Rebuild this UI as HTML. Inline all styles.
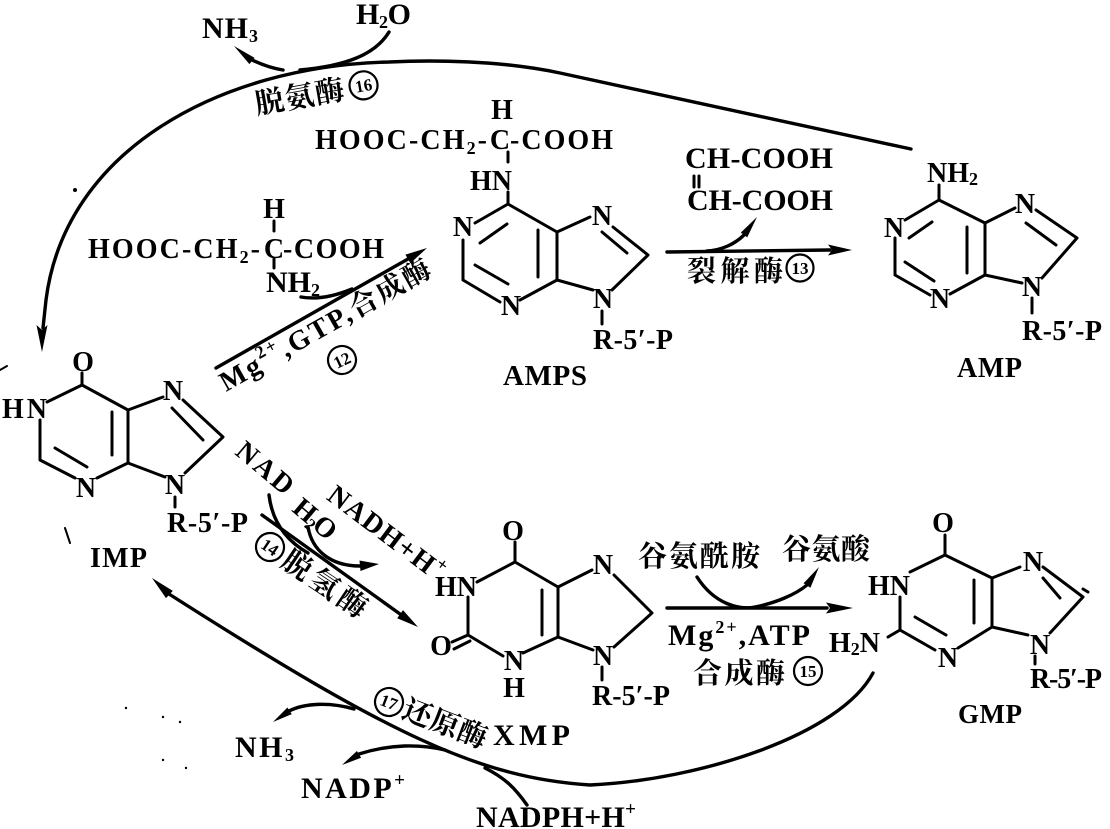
<!DOCTYPE html>
<html><head><meta charset="utf-8"><style>
html,body{margin:0;padding:0;background:#fff;}
svg{display:block;}
.t{font-family:"Liberation Serif","Noto Serif CJK SC",serif;font-weight:bold;fill:#000;}
.c{font-family:"Noto Serif CJK SC","Noto Sans CJK SC","WenQuanYi Zen Hei",serif;font-weight:bold;fill:#000;}
</style></head><body>
<svg xmlns="http://www.w3.org/2000/svg" width="1110" height="829" viewBox="0 0 1110 829">
<rect width="1110" height="829" fill="#fff"/>

<!-- bonds -->
<g fill="none" stroke="#000" stroke-width="3" stroke-linecap="round">
<!-- IMP -->
<path d="M82,373 L82,385 M82,385 L47,402 M40,420 L40,460 M40,460 L75,478 M97,478 L128,463 M128,463 L128,410 M128,410 L82,385 M128,410 L163,397 M183,400 L223,437 M223,437 L185,473 M165,477 L128,463 M55,448 L87,467 M112,412 L112,455 M172,408 L203,440 M175,497 L175,507"/>
<!-- AMPS -->
<path d="M508,152 L508,162 M508,192 L508,204 M508,204 L475,223 M463,240 L463,280 M463,280 L500,302 M520,300 L557,280 M557,280 L557,232 M557,232 L508,204 M557,232 L590,217 M613,227 L648,255 M648,255 L612,290 M593,290 L557,280 M480,243 L507,224 M475,265 L508,284 M538,230 L538,277 M602,232 L627,253 M602,311 L602,324"/>
<!-- AMP -->
<path d="M939,185 L939,200 M939,200 L905,220 M895,238 L895,275 M895,275 L930,295 M950,294 L985,275 M985,275 L985,223 M985,223 L939,200 M985,223 L1015,208 M1036,210 L1077,238 M1077,238 L1042,278 M1022,283 L985,275 M909,238 L932,222 M905,262 L934,281 M967,227 L967,273 M1026,223 L1056,245 M1032,298 L1032,313"/>
<!-- XMP -->
<path d="M515,542 L515,562 M515,562 L477,582 M468,597 L468,635 M468,635 L503,656 M523,653 L558,637 M558,637 L558,587 M558,587 L515,562 M558,587 L592,570 M614,575 L652,613 M652,613 L614,647 M593,650 L558,637 M542,590 L542,635 M468,635 L452,642 M470,641 L454,649 M602,667 L602,680"/>
<!-- GMP -->
<path d="M945,535 L945,555 M945,555 L910,572 M900,597 L900,630 M900,630 L935,650 M958,648 L992,627 M992,627 L992,578 M992,578 L945,555 M992,578 L1020,567 M1043,567 L1083,597 M1083,597 L1050,633 M1028,635 L992,627 M888,637 L900,630 M915,617 L946,635 M974,580 L974,623 M1043,578 L1060,598 M1035,656 L1035,664 M1083,589 L1088,592"/>
<!-- aspartate ticks -->
<path d="M274,221 L274,231 M274,259 L274,268 M694,176 L694,187 M699,176 L699,187"/>
</g>

<!-- arrows -->
<g fill="none" stroke="#000" stroke-width="3.4" stroke-linecap="round">
<path d="M911,149 L560,73 C500,60 430,60 389,62 C220,66 65,150 46,300 L43,328"/>
<path d="M389,32 C375,55 345,66 300,70"/>
<path d="M283,70 C270,68 258,63 250,59"/>
<path d="M216,368 L408,259"/>
<path d="M301,297 C318,300 335,296 352,289"/>
<path d="M667,252 L830,250"/>
<path d="M707,251 C722,250 735,244 744,235"/>
<path d="M262,515 L400,614"/>
<path d="M269,495 C272,520 285,540 308,553"/>
<path d="M308,527 C312,550 330,566 360,566"/>
<path d="M667,608 L827,608"/>
<path d="M697,577 C715,605 740,610 755,607 C775,603 795,595 807,585"/>
<path d="M873,673 C840,735 700,780 590,785 C480,778 390,735 169,594"/>
<path d="M354,709 C330,702 305,703 289,711"/>
<path d="M445,750 C420,744 390,744 359,754"/>
<path d="M527,805 C515,788 505,778 485,768"/>
</g>

<!-- arrowheads -->
<g fill="#000" stroke="none">
<polygon points="42,352 36.5,325 42,330 47.5,325"/>
<polygon points="234,46 254.6,57.9 249.4,64.1"/>
<polygon points="427,248 410.4,263.2 405.4,254.6"/>
<polygon points="852,250 828,244.5 832,250 828,255.5"/>
<polygon points="757,217 747.2,237.4 740.8,232.6"/>
<polygon points="418,627 397.2,618.3 403,610.1"/>
<polygon points="379,564 359.5,560.5 360.5,571"/>
<polygon points="853,608 826,602.5 830,608 826,613.5"/>
<polygon points="819,567 810.4,587.7 803.6,583.3"/>
<polygon points="152,578 172.8,590.9 166,598.1"/>
<polygon points="273,722 291.8,714.1 287.4,707.5"/>
<polygon points="342,765 361.1,757.8 356.9,751"/>
</g>

<!-- specks -->
<g fill="#000" stroke="#000" stroke-width="2" stroke-linecap="round">
<circle cx="75" cy="190" r="2" stroke="none"/>
<path d="M0,370 L7,366 M65,528 L70,543" fill="none"/>
<circle cx="126" cy="708" r="1.2" stroke="none"/>
<circle cx="163" cy="717" r="1.2" stroke="none"/>
<circle cx="180" cy="722" r="1.2" stroke="none"/>
<circle cx="163" cy="760" r="1.2" stroke="none"/>
<circle cx="186" cy="768" r="1.2" stroke="none"/>
</g>

<!-- atom labels -->
<g class="t" font-size="28" text-anchor="middle">
<!-- IMP -->
<text x="83" y="371">O</text>
<text x="86" y="497">N</text>
<text x="173" y="400">N</text>
<text x="175" y="494">N</text>
<!-- AMPS -->
<text x="502" y="119">H</text>
<text x="500" y="149">C</text>
<text x="463" y="236">N</text>
<text x="511" y="315">N</text>
<text x="602" y="225">N</text>
<text x="603" y="308">N</text>
<!-- AMP -->
<text x="894" y="237">N</text>
<text x="940" y="308">N</text>
<text x="1025" y="213">N</text>
<text x="1032" y="296">N</text>
<!-- XMP -->
<text x="513" y="540">O</text>
<text x="441" y="655">O</text>
<text x="514" y="670">N</text>
<text x="514" y="697">H</text>
<text x="603" y="574">N</text>
<text x="603" y="665">N</text>
<!-- GMP -->
<text x="943" y="532">O</text>
<text x="948" y="667">N</text>
<text x="1033" y="571">N</text>
<text x="1040" y="654">N</text>
<!-- aspartate -->
<text x="274" y="218">H</text>
<text x="274" y="258">C</text>
</g>

<g class="t" font-size="28">
<text x="2" y="418" textLength="45">HN</text>
<text x="167" y="532" textLength="81">R-5′-P</text>
<text x="90" y="567" textLength="57" font-size="28">IMP</text>

<text x="470" y="190" textLength="42">HN</text>
<text x="593" y="349" textLength="80">R-5′-P</text>
<text x="503" y="385" textLength="84" font-size="29">AMPS</text>

<text x="927" y="182">NH<tspan font-size="18" dy="3">2</tspan></text>
<text x="1022" y="340" textLength="80">R-5′-P</text>
<text x="957" y="377" textLength="65" font-size="28">AMP</text>

<text x="435" y="596" textLength="42">HN</text>
<text x="592" y="705" textLength="78">R-5′-P</text>

<text x="868" y="595" textLength="42">HN</text>
<text x="829" y="652">H<tspan font-size="18" dy="3">2</tspan><tspan dy="-3">N</tspan></text>
<text x="1030" y="688" textLength="72">R-5′-P</text>
<text x="958" y="723" textLength="64" font-size="27">GMP</text>
</g>

<!-- chains -->
<g class="t" font-size="28">
<text x="88" y="258" textLength="172">HOOC-CH<tspan font-size="18" dy="5">2</tspan><tspan dy="-5">-</tspan></text>
<text x="283" y="258" textLength="101">-COOH</text>
<text x="266" y="292" font-size="30">NH<tspan font-size="18" dy="4">2</tspan></text>

<text x="315" y="149" textLength="172">HOOC-CH<tspan font-size="18" dy="5">2</tspan><tspan dy="-5">-</tspan></text>
<text x="510" y="149" textLength="103">-COOH</text>

<text x="685" y="168" textLength="148" font-size="30">CH-COOH</text>
<text x="687" y="210" textLength="146" font-size="30">CH-COOH</text>

<text x="202" y="38" textLength="56" font-size="30">NH<tspan font-size="18" dy="4">3</tspan></text>
<text x="356" y="24" textLength="55" font-size="30">H<tspan font-size="18" dy="4">2</tspan><tspan dy="-4">O</tspan></text>

<text x="668" y="645" textLength="142" font-size="30">Mg<tspan font-size="18" dy="-12">2+</tspan><tspan dy="12">,ATP</tspan></text>

<text x="235" y="757" textLength="59" font-size="30">NH<tspan font-size="18" dy="4">3</tspan></text>
<text x="301" y="798" textLength="104" font-size="30">NADP<tspan font-size="19" dy="-12">+</tspan></text>
<text x="476" y="827" textLength="160" font-size="30">NADPH+H<tspan font-size="19" dy="-12">+</tspan></text>
<text x="493" y="745" textLength="77" font-size="30">XMP</text>
</g>

<!-- Chinese labels -->
<g class="c" font-size="29">
<text x="687" y="281" textLength="96">裂解酶</text>
<text x="638" y="566" textLength="122">谷氨酰胺</text>
<text x="782" y="559" textLength="88">谷氨酸</text>
<text x="693" y="683" textLength="92">合成酶</text>
</g>

<!-- circled numbers (unrotated) -->
<g fill="none" stroke="#000" stroke-width="2.2">
<circle cx="800" cy="268" r="13.5"/>
<circle cx="808" cy="671" r="14"/>
</g>
<g class="t" font-size="17" text-anchor="middle">
<text x="800" y="274">13</text>
<text x="808" y="677">15</text>
</g>

<!-- rotated: 脱氨酶16 -->
<g transform="translate(269,102) rotate(-10)">
<text class="c" x="-14" y="10" font-size="29" textLength="90">脱氨酶</text>
<circle cx="96" cy="0" r="14" fill="none" stroke="#000" stroke-width="2.2"/>
<text class="t" x="96" y="6" font-size="17" text-anchor="middle">16</text>
</g>

<!-- rotated: Mg2+,GTP,合成酶 -->
<g transform="translate(226,392) rotate(-29.5)">
<text class="t" x="0" y="0" font-size="28" textLength="238">Mg<tspan font-size="18" dy="-12">2+</tspan><tspan dy="12">,GTP,</tspan><tspan class="c">合成酶</tspan></text>
</g>
<g transform="translate(342,360) rotate(-25)">
<circle cx="0" cy="0" r="14" fill="none" stroke="#000" stroke-width="2.2"/>
<text class="t" x="0" y="6" font-size="17" text-anchor="middle">12</text>
</g>

<!-- rotated: NAD / H2O / NADH+H+ -->
<g transform="translate(265,468) rotate(40)">
<text class="t" x="0" y="9" font-size="28" text-anchor="middle" textLength="66">NAD</text>
</g>
<g transform="translate(315,519) rotate(40)">
<text class="t" x="0" y="9" font-size="28" text-anchor="middle" textLength="48">H<tspan font-size="17" dy="4">2</tspan><tspan dy="-4">O</tspan></text>
</g>
<g transform="translate(386,533) rotate(37)">
<text class="t" x="0" y="9" font-size="28" text-anchor="middle" textLength="138">NADH+H<tspan font-size="18" dy="-12">+</tspan></text>
</g>

<!-- rotated: 14 脱氢酶 -->
<g transform="translate(270,547) rotate(34)">
<circle cx="0" cy="0" r="14" fill="none" stroke="#000" stroke-width="2.2"/>
<text class="t" x="0" y="6" font-size="17" text-anchor="middle">14</text>
<text class="c" x="18" y="10" font-size="29" textLength="96">脱氢酶</text>
</g>

<!-- rotated: 17 还原酶 -->
<g transform="translate(389,702) rotate(21)">
<circle cx="0" cy="0" r="14" fill="none" stroke="#000" stroke-width="2.2"/>
<text class="t" x="0" y="6" font-size="17" text-anchor="middle">17</text>
<text class="c" x="16" y="10" font-size="29" textLength="88">还原酶</text>
</g>

</svg>
</body></html>
